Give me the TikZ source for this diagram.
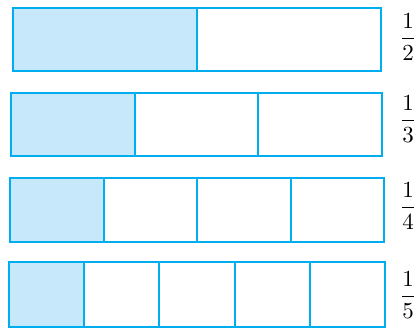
\documentclass[tikz,border=0pt]{standalone}
\usepackage{amsmath}
\usetikzlibrary{positioning}
\definecolor{barblue}{RGB}{0,174,239}
\definecolor{shadeblue}{RGB}{199,232,250}
\tikzset{cell/.style = {draw=barblue, line width=2pt},
         part/.style = {fill=shadeblue},
         fraclabel/.style = {inner sep=0, scale=2.3}}

\begin{document}
\begin{tikzpicture}[x=1pt,y=-1pt]
    \useasboundingbox (0,0) rectangle (417,330);
    % one strip per fraction: parts, left, right, top, bottom, label height
    \foreach \n/\xa/\xb/\ya/\yb/\fy in {2/13/381/8/71/37, 3/11/382/93/156/119, 4/10/384/178/242/206, 5/9/385/262/327/295} {
        \pgfmathsetmacro{\w}{(\xb-\xa)/\n}
        \fill[part] (\xa,\ya) rectangle ({\xa+\w},\yb);
        \foreach \k in {2,...,\n} {
            \draw[cell] ({\xa+(\k-1)*\w},\ya) -- ({\xa+(\k-1)*\w},\yb); % divider
        }
        \draw[cell] (\xa,\ya) rectangle (\xb,\yb);
        \node[fraclabel] (frac\n) at (408,\fy) {$\dfrac{1}{\n}$};
    }
\end{tikzpicture}
\end{document}
